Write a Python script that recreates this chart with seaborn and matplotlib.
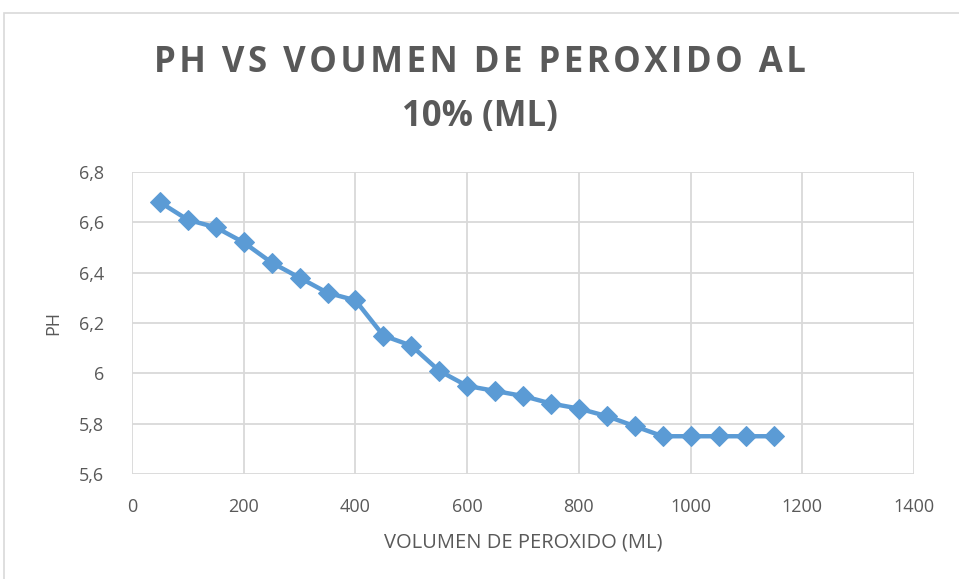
import numpy as np
import pandas as pd
import seaborn as sns
import matplotlib.pyplot as plt
from matplotlib.patches import Rectangle
from matplotlib.ticker import FuncFormatter, MultipleLocator

# data
volumen = [50, 100, 150, 200, 250, 300, 350, 400, 450, 500, 550, 600,
           650, 700, 750, 800, 850, 900, 950, 1000, 1050, 1100, 1150]
ph = [6.68, 6.61, 6.58, 6.52, 6.44, 6.38, 6.32, 6.29, 6.15, 6.11, 6.01, 5.95,
      5.93, 5.91, 5.88, 5.86, 5.83, 5.79, 5.75, 5.75, 5.75, 5.75, 5.75]

df = pd.DataFrame({'volumen': volumen, 'ph': ph})

sns.set_style('white')
plt.rcParams['font.family'] = ['Open Sans', 'DejaVu Sans']

fig = plt.figure(figsize=(9.59, 5.79), dpi=100)
ax = fig.add_axes([132 / 959, 1 - 474 / 579, (914 - 132) / 959, (474 - 172) / 579])

blue = '#5B9BD5'
sns.lineplot(data=df, x='volumen', y='ph', ax=ax, color=blue, linewidth=3.2,
             marker='D', markersize=10, markeredgecolor=blue)

ax.set_xlim(0, 1400)
ax.set_ylim(5.6, 6.8)
ax.xaxis.set_major_locator(MultipleLocator(200))
ax.yaxis.set_major_locator(MultipleLocator(0.2))

def coma(v, pos):
    s = f'{v:.1f}'
    if s.endswith('.0'):
        s = s[:-2]
    return s.replace('.', ',')

ax.yaxis.set_major_formatter(FuncFormatter(coma))
ax.grid(True, color='#D9D9D9', linewidth=1.3)
for s in ax.spines.values():
    s.set_visible(False)
ax.tick_params(length=0, labelsize=13, colors='#595959')
ax.tick_params(axis='x', pad=17)
ax.tick_params(axis='y', pad=20)

ax.set_xlabel('VOLUMEN DE PEROXIDO (ML)', fontsize=14.5, color='#595959', labelpad=12)
ax.set_ylabel('PH', fontsize=13, color='#595959', labelpad=12)

# the original title has wide tracking on the first line
title = '\u200a'.join('PH VS VOUMEN DE PEROXIDO AL') + '\n' + '10% (ML)'
fig.text(0.5, 1 - 90 / 579, title, ha='center', va='center',
         fontsize=25, fontweight='bold', color='#595959', linespacing=1.68)

# chart border like the spreadsheet frame
fig.patches.append(Rectangle((4 / 959, -0.05), 1.1, 1 - 13 / 579 + 0.05, transform=fig.transFigure,
                             fill=False, edgecolor='#D9D9D9', linewidth=1.2))

fig.savefig('out.png', dpi=100)
